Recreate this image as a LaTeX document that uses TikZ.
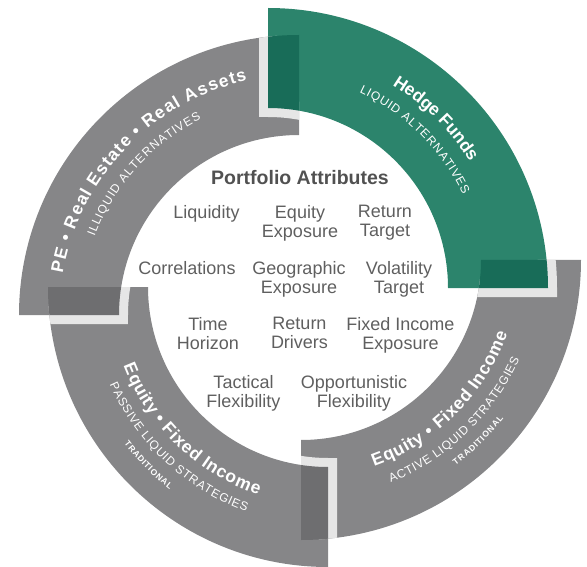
\documentclass[tikz,border=0pt]{standalone}
\usepackage{fontspec}
\setmainfont{Liberation Sans}
\usetikzlibrary{calc,decorations.text}

\definecolor{ringgray}{RGB}{134,134,136}
\definecolor{ringdark}{RGB}{110,110,112}
\definecolor{ringgreen}{RGB}{44,132,108}
\definecolor{ringgreendark}{RGB}{24,108,88}
\definecolor{ringhalo}{RGB}{230,230,230}
\definecolor{attrtext}{RGB}{95,95,95}

% one quarter of the ring: centre coordinate, start angle
\newcommand{\ringpart}[2]{($(#1)+(#2:280pt)$) arc[start angle=#2, delta angle=90, radius=280pt] -- ($(#1)+({#2+90}:180pt)$) arc[start angle={#2+90}, delta angle=-90, radius=180pt] -- cycle}

\newcommand{\arcmain}{\fontsize{17.5}{17.5}\selectfont\bfseries}
\newcommand{\arcsub}{\fontsize{12}{12}\selectfont}
\newcommand{\arctiny}{\fontsize{8.5}{8.5}\selectfont\bfseries}

\begin{document}
\begin{tikzpicture}[x=1pt,y=1pt,
	ringtext/.style 2 args={decorate, decoration={text effects along path, text={#1},
		text effects/.cd, text along path, fit text to path, characters={text=white, inner sep=0pt, font=#2}}}]

	\tikzstyle{attr}=[font=\fontsize{18}{19}\selectfont, text=attrtext, align=center, anchor=north, inner sep=0pt]
	\tikzstyle{halo}=[draw=ringhalo, line width=18pt]

	\useasboundingbox (0,0) rectangle (587,-567);

	\coordinate (tlc) at (299,-315);
	\coordinate (trc) at (268,-288);
	\coordinate (brc) at (301,-260);
	\coordinate (blc) at (328,-287);

	% the four quarters, each one over the one before
	\fill[ringgray] \ringpart{brc}{-90};

	\fill[ringgray] \ringpart{blc}{180};
	\begin{scope}
		\clip \ringpart{brc}{-90};
		\path[halo] \ringpart{blc}{180};
		\fill[ringdark] \ringpart{blc}{180};
	\end{scope}

	\fill[ringgray] \ringpart{tlc}{90};
	\begin{scope}
		\clip \ringpart{blc}{180};
		\path[halo] \ringpart{tlc}{90};
		\fill[ringdark] \ringpart{tlc}{90};
	\end{scope}

	\fill[ringgreen] \ringpart{trc}{0};
	\begin{scope}
		\clip \ringpart{tlc}{90};
		\path[halo] \ringpart{trc}{0};
		\fill[ringgreendark] \ringpart{trc}{0};
	\end{scope}
	\begin{scope}
		\clip \ringpart{brc}{-90};
		\path[halo] \ringpart{trc}{0};
		\fill[ringgreendark] \ringpart{trc}{0};
	\end{scope}

	% labels on the ring
	\path[ringtext={PE • Real Estate • Real Assets}{\arcmain}]
		($(tlc)+(170:240pt)$) arc[start angle=170, end angle=102.5, radius=240pt];
	\path[ringtext={ILLIQUID ALTERNATIVES}{\arcsub}]
		($(tlc)+(159:219pt)$) arc[start angle=159, end angle=116.5, radius=219pt];

	\path[ringtext={Hedge Funds}{\arcmain}]
		($(trc)+(58.5:238pt)$) arc[start angle=58.5, end angle=32, radius=238pt];
	\path[ringtext={LIQUID ALTERNATIVES}{\arcsub}]
		($(trc)+(65:216pt)$) arc[start angle=65, end angle=25.5, radius=216pt];

	\path[ringtext={Equity • Fixed Income}{\arcmain}]
		($(brc)+(-70.5:219pt)$) arc[start angle=-70.5, end angle=-19.5, radius=219pt];
	\path[ringtext={ACTIVE LIQUID STRATEGIES}{\arcsub}]
		($(brc)+(-68:240pt)$) arc[start angle=-68, end angle=-24.5, radius=240pt];
	\path[ringtext={TRADITIONAL}{\arctiny}]
		($(brc)+(-53:257pt)$) arc[start angle=-53, end angle=-38, radius=257pt];

	\path[ringtext={Equity • Fixed Income}{\arcmain}]
		($(blc)+(201:219pt)$) arc[start angle=201, end angle=251.5, radius=219pt];
	\path[ringtext={PASSIVE LIQUID STRATEGIES}{\arcsub}]
		($(blc)+(204:239pt)$) arc[start angle=204, end angle=250, radius=239pt];
	\path[ringtext={TRADITIONAL}{\arctiny}]
		($(blc)+(217.5:257pt)$) arc[start angle=217.5, end angle=232, radius=257pt];

	% attributes in the middle
	\node[attr, font=\fontsize{19.5}{20}\selectfont\bfseries, text=attrtext!85!black] (title) at (300,-170) {Portfolio Attributes};

	\node[attr] (liquidity) at (206.5,-205) {Liquidity};
	\node[attr] (eqexp) at (300,-205) {Equity\\Exposure};
	\node[attr] (rettarget) at (385,-205) {Return\\Target};

	\node[attr] (correl) at (187,-261) {Correlations};
	\node[attr] (geoexp) at (299,-261) {Geographic\\Exposure};
	\node[attr] (voltarget) at (399,-261) {Volatility\\Target};

	\node[attr] (timehor) at (208,-317) {Time\\Horizon};
	\node[attr] (retdrivers) at (299.5,-317) {Return\\Drivers};
	\node[attr] (fiexp) at (400.5,-317) {Fixed Income\\Exposure};

	\node[attr] (tactflex) at (243.5,-375) {Tactical\\Flexibility};
	\node[attr] (oppflex) at (354,-375) {Opportunistic\\Flexibility};

\end{tikzpicture}
\end{document}
